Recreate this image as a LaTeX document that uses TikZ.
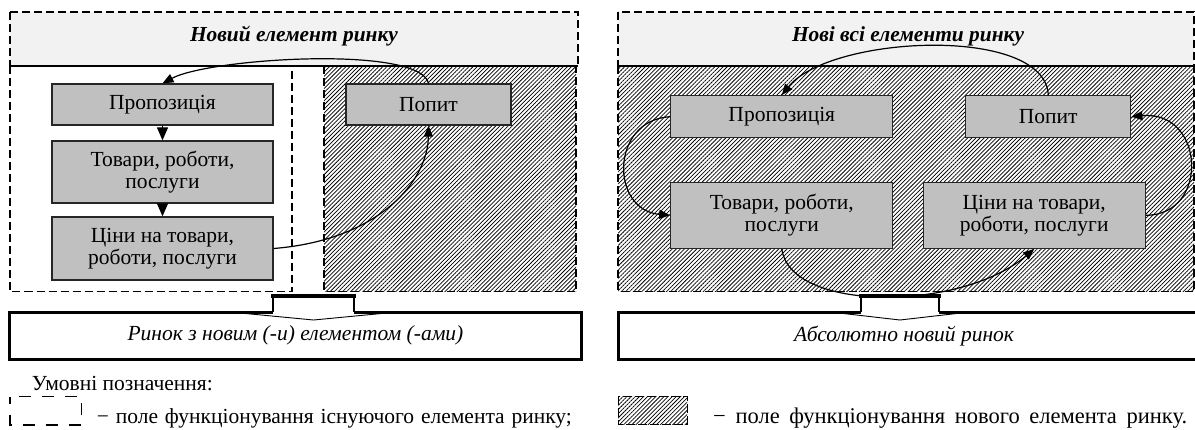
\documentclass[tikz,border=0pt]{standalone}
\usepackage{fontspec}
\setmainfont{Liberation Serif}
\usetikzlibrary{arrows.meta,patterns.meta}
\definecolor{hdrgray}{HTML}{F2F2F2}
\definecolor{boxgray}{HTML}{C0C0C0}
\tikzset{
  dline/.style={dash pattern=on 8pt off 4pt, line width=1.3pt},
  hdrbox/.style={dline, draw, fill=hdrgray},
  hatchfill/.style={pattern={Lines[angle=45,distance=2.9pt,line width=0.75pt]}},
  gbox/.style={draw=black!85, line width=1.3pt, fill=boxgray, align=center,
    inner sep=0pt, font=\fontsize{21.5}{22}\selectfont},
  conn/.style={-{Triangle[length=11pt,width=9pt]}, line width=1.2pt},
  shortconn/.style={-{Triangle[length=13pt,width=11pt]}, line width=1.2pt},
  mktbox/.style={draw, line width=3pt, fill=white, inner sep=0pt,
    font=\fontsize{21.5}{22}\selectfont\itshape},
  titletext/.style={font=\fontsize{21.4}{24}\selectfont\bfseries\itshape},
  legtext/.style={anchor=base west, inner sep=0pt, font=\fontsize{21.5}{22}\selectfont},
}
\begin{document}
\begin{tikzpicture}[x=1pt,y=-1pt]
\useasboundingbox (0,0) rectangle (1195,429);

% ---------- left panel ----------
\draw[hdrbox] (10,12) rectangle (578,66);
\node[titletext] (t1) at (294,36) {Новий елемент ринку};
\draw[dline] (10,66) rectangle (292,291.5);
\fill[hatchfill] (324,66) rectangle (576,291.5);
\draw[dline] (324,66) rectangle (576,291.5);
\draw[dline] (10,66) -- (578,66);

\node[gbox, minimum width=221pt, minimum height=41pt] (lp) at (162.5,104.5) {Пропозиція};
\node[gbox, minimum width=221pt, minimum height=62pt] (lt) at (162.5,172) {Товари, роботи,\\послуги};
\node[gbox, minimum width=221pt, minimum height=63pt] (lc) at (162.5,248.5) {Ціни на товари,\\роботи, послуги};
\node[gbox, minimum width=165pt, minimum height=41pt] (ld) at (428.5,104.5) {Попит};

\draw[shortconn] (lp.south) -- (lt.north);
\draw[shortconn] (lt.south) -- (lc.north);
\draw[conn] (ld.north) .. controls (420,45) and (210,58) .. (lp.north);
\draw[conn] (lc.east) .. controls (380,240) and (428,180) .. (ld.south);

% ---------- right panel ----------
\draw[hdrbox] (618,12) rectangle (1194,66);
\node[titletext] (t2) at (908,36) {Нові всі елементи ринку};
\fill[hatchfill] (618,66) rectangle (1194,291.5);
\draw[dline] (618,66) rectangle (1194,291.5);

\node[gbox, minimum width=222pt, minimum height=42pt] (rp) at (781.8,116.7) {Пропозиція};
\node[gbox, minimum width=222pt, minimum height=66pt] (rt) at (781.8,215.3) {Товари, роботи,\\послуги};
\node[gbox, minimum width=165pt, minimum height=42pt] (rd) at (1048.3,116.7) {Попит};
\node[gbox, minimum width=222pt, minimum height=66pt] (rc) at (1034.2,215.3) {Ціни на товари,\\роботи, послуги};

\draw[conn] (rd.north) .. controls (1045,25) and (830,35) .. (rp.north);
\draw[conn] (rp.west) .. controls (610,120) and (610,210) .. (rt.west);
\draw[conn] (rt.south) .. controls (790,312) and (960,312) .. (rc.south);
\draw[conn] (rc.east) .. controls (1210,215) and (1205,110) .. (rd.east);

% ---------- result boxes ----------
\node[mktbox, minimum width=572pt, minimum height=47pt] (m1) at (295.5,335.7) {Ринок з новим (-и) елементом (-ами)};
\fill[white] (273,298) rectangle (354,314.2);
\draw[line width=2pt] (273,312) -- (273,296.3) (354,296.3) -- (354,312);
\draw[line width=4pt] (271,296.3) -- (356,296.3);
\draw[line width=0.9pt] (233,312.3) -- (313.5,320) -- (394,312.3);

\node[mktbox, minimum width=582pt, minimum height=47pt] (m2) at (909,335.7) {\hspace*{-10pt}Абсолютно новий ринок};
\fill[white] (861,298) rectangle (939.3,314.2);
\draw[line width=2pt] (861,312) -- (861,296.3) (939.3,296.3) -- (939.3,312);
\draw[line width=4pt] (859,296.3) -- (941.3,296.3);
\draw[line width=0.9pt] (833,312.3) -- (900,320) -- (967,312.3);

% ---------- legend ----------
\node[legtext] (lg) at (31.7,390) {Умовні позначення:};
\draw[dash pattern=on 12pt off 11pt, dash phase=5pt, line width=1.3pt] (10,396.7) rectangle (81.7,425);
\node[legtext] (lg1) at (96.7,423) {\makebox[475pt][s]{− поле функціонування існуючого елемента ринку;}};
\fill[hatchfill] (618,396) rectangle (687,424);
\draw[dash pattern=on 9pt off 3pt, line width=0.8pt] (618,396) rectangle (687,424);
\node[legtext, font=\fontsize{22.5}{23}\selectfont] (lg2) at (713,423) {\makebox[474pt][s]{− поле функціонування нового елемента ринку.}};
\end{tikzpicture}
\end{document}
